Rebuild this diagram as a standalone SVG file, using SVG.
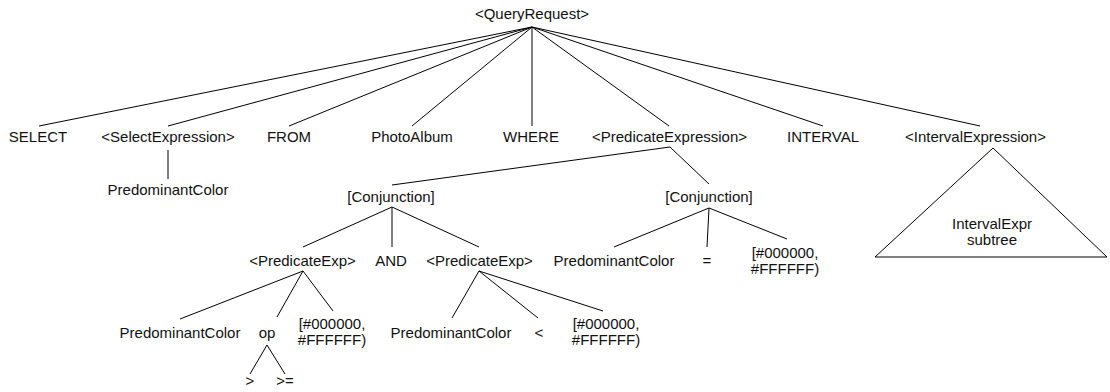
<svg xmlns="http://www.w3.org/2000/svg" width="1110" height="392" viewBox="0 0 1110 392">
<style>
text{font-family:"Liberation Sans",Arial,sans-serif;font-size:15px;fill:#111;text-anchor:middle}
.e{stroke:#000;stroke-width:1;fill:none}
</style>
<rect width="1110" height="392" fill="#fff"/>
<g id="connectors">
<path class="e" d="M532,27L39,126M532,27L168,126M532,27L289,126M532,27L412,126M532,27L532,126M532,27L669,126M532,27L823,126M532,27L980,126"/>
<path class="e" d="M168,150L168,179"/>
<path class="e" d="M670,147L392,185M670,147L709,184"/>
<path class="e" d="M392,207L303,247M392,207L392,247M392,207L479,247"/>
<path class="e" d="M709,208L614,247M709,208L707,247M709,208L787,239"/>
<path class="e" d="M303,271L180,319M303,271L277,317M303,271L333,311"/>
<path class="e" d="M479,271L452,318M479,271L538,318M479,271L603,311"/>
<path class="e" d="M267,345L250,374M267,345L285,374"/>
</g>
<g id="n-root"><text x="532" y="19">&lt;QueryRequest&gt;</text></g>
<g id="n-select"><text x="38" y="142">SELECT</text></g>
<g id="n-selexpr"><text x="168" y="142">&lt;SelectExpression&gt;</text></g>
<g id="n-selcolor"><text x="168" y="195">PredominantColor</text></g>
<g id="n-from"><text x="289" y="142">FROM</text></g>
<g id="n-album"><text x="412" y="142">PhotoAlbum</text></g>
<g id="n-where"><text x="531" y="142">WHERE</text></g>
<g id="n-predexpr"><text x="669.5" y="142">&lt;PredicateExpression&gt;</text></g>
<g id="n-interval"><text x="823" y="142">INTERVAL</text></g>
<g id="n-intexpr"><text x="975.5" y="142">&lt;IntervalExpression&gt;</text></g>
<g id="n-subtree">
<path class="e" d="M993,148L875,257L1107,257Z"/>
<text x="992" y="229">IntervalExpr</text>
<text x="992" y="245">subtree</text>
</g>
<g id="n-conj1"><text x="391" y="202">[Conjunction]</text></g>
<g id="n-conj2"><text x="709" y="202">[Conjunction]</text></g>
<g id="n-pe1"><text x="302.5" y="266">&lt;PredicateExp&gt;</text></g>
<g id="n-and"><text x="391" y="266">AND</text></g>
<g id="n-pe2"><text x="479.5" y="266">&lt;PredicateExp&gt;</text></g>
<g id="n-c2color"><text x="614" y="266">PredominantColor</text></g>
<g id="n-eq"><text x="707" y="266">=</text></g>
<g id="n-c2range"><text x="785" y="258">[#000000,</text><text x="785" y="274">#FFFFFF)</text></g>
<g id="n-pe1color"><text x="180" y="338">PredominantColor</text></g>
<g id="n-op"><text x="267" y="338">op</text></g>
<g id="n-pe1range"><text x="332" y="329">[#000000,</text><text x="332" y="345">#FFFFFF)</text></g>
<g id="n-pe2color"><text x="451" y="338">PredominantColor</text></g>
<g id="n-lt"><text x="539" y="338">&lt;</text></g>
<g id="n-pe2range"><text x="606" y="329">[#000000,</text><text x="606" y="345">#FFFFFF)</text></g>
<g id="n-gt"><text x="250" y="386">&gt;</text></g>
<g id="n-ge"><text x="285" y="386">&gt;=</text></g>
</svg>
